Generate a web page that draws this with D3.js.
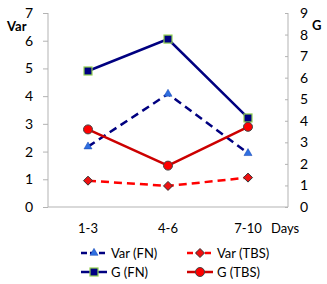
<!DOCTYPE html>
<html>
<head>
<meta charset="utf-8">
<script src="https://cdn.jsdelivr.net/npm/d3@7"></script>
<style>
body { margin:0; background:#fff; }
text { font-family: Lato, "Open Sans", sans-serif; fill:#000; }
.ax line, .ax path { stroke:#b3b3b3; }
</style>
</head>
<body>
<div id="viz"></div>
<script>
var days = ["1-3", "4-6", "7-10"];
var varFN = [2.18, 4.08, 1.94];
var varTBS = [0.95, 0.76, 1.06];
var gFN = [6.31, 7.79, 4.13];
var gTBS = [3.6, 1.92, 3.72];
var leftTicks = [0, 1, 2, 3, 4, 5, 6, 7];
var rightTicks = [0, 1, 2, 3, 4, 5, 6, 7, 8, 9];

var width = 327, height = 284;
var svg = d3.select('#viz').append("svg")
	.attr("width", width)
	.attr("height", height);

var x = d3.scalePoint().domain(days).range([88, 248]);
var yL = d3.scaleLinear().domain([0, 7]).range([207, 13]);
var yR = d3.scaleLinear().domain([0, 9]).range([207, 13]);

// axes
var left = svg.append("g").attr("class", "ax")
	.attr("transform", "translate(48,0)")
	.call(d3.axisLeft(yL).tickValues(leftTicks).tickFormat(d3.format("d")).tickSize(5).tickPadding(10));
var right = svg.append("g").attr("class", "ax")
	.attr("transform", "translate(288,0)")
	.call(d3.axisRight(yR).tickValues(rightTicks).tickFormat(d3.format("d")).tickSize(-3).tickPadding(12));
left.select(".domain").attr("d", "M0,13V207");
right.select(".domain").attr("d", "M0,13V207");
svg.selectAll(".ax text").style("font-size", "14px");

svg.append("line")
	.attr("x1", 48).attr("x2", 288)
	.attr("y1", yL(0)).attr("y2", yL(0))
	.attr("stroke", "#b3b3b3");

svg.selectAll(".cat").data(days).enter().append("text")
	.attr("x", function(d){ return x(d); })
	.attr("y", 233)
	.attr("text-anchor", "middle")
	.style("font-size", "13px")
	.text(function(d){ return d; });
svg.append("text").attr("x", 271).attr("y", 233).style("font-size", "13px").text("Days");
svg.append("text").attr("x", 7).attr("y", 31).style("font-size", "13px").style("font-weight", "bold").text("Var");
svg.append("text").attr("x", 312).attr("y", 30).style("font-size", "13px").style("font-weight", "bold").text("G");

var series = [
	{name:"Var (FN)", vals:varFN, y:yL, color:"#000080", dash:"8,5", mark:"tri"},
	{name:"Var (TBS)", vals:varTBS, y:yL, color:"#ff0000", dash:"8,5", mark:"dia"},
	{name:"G (FN)", vals:gFN, y:yR, color:"#000080", dash:null, mark:"sq"},
	{name:"G (TBS)", vals:gTBS, y:yR, color:"#cc0000", dash:null, mark:"circ"}
];

function marker(g, type, cx, cy) {
	if (type == "tri") {
		g.append("path").attr("d", d3.symbol(d3.symbolTriangle, 28)())
			.attr("transform", "translate(" + cx + "," + cy + ")")
			.attr("fill", "#2f6fe0").attr("stroke", "#1040b0").attr("stroke-width", 0.5);
	} else if (type == "dia") {
		g.append("path").attr("d", "M0,-4.5L4.5,0L0,4.5L-4.5,0Z")
			.attr("transform", "translate(" + cx + "," + cy + ")")
			.attr("fill", "#ee1010").attr("stroke", "#333").attr("stroke-width", 1);
	} else if (type == "sq") {
		g.append("rect").attr("x", cx - 4).attr("y", cy - 4)
			.attr("width", 8).attr("height", 8)
			.attr("fill", "#000080").attr("stroke", "#92d050").attr("stroke-width", 1.2);
	} else {
		g.append("circle").attr("cx", cx).attr("cy", cy).attr("r", 4.5)
			.attr("fill", "#ff0000").attr("stroke", "#444").attr("stroke-width", 1);
	}
}

var line = d3.line();
series.forEach(function(s){
	var pts = days.map(function(d, i){ return [x(d), s.y(s.vals[i])]; });
	svg.append("path").attr("d", line(pts))
		.attr("fill", "none").attr("stroke", s.color).attr("stroke-width", 2.5)
		.attr("stroke-dasharray", s.dash);
	var g = svg.append("g");
	pts.forEach(function(p){ marker(g, s.mark, p[0], p[1]); });
});

// legend
var lx = [81, 187], ly = [253, 272];
series.forEach(function(s, i){
	var cx = lx[i % 2], cy = ly[Math.floor(i / 2)];
	svg.append("line").attr("x1", cx).attr("x2", cx + 26).attr("y1", cy).attr("y2", cy)
		.attr("stroke", s.color).attr("stroke-width", 2.5)
		.attr("stroke-dasharray", s.dash ? "6,3" : null);
	marker(svg, s.mark, cx + 13, cy);
	svg.append("text").attr("x", cx + 30).attr("y", cy + 4.5)
		.style("font-size", "13px").text(s.name);
});
</script>
</body>
</html>
